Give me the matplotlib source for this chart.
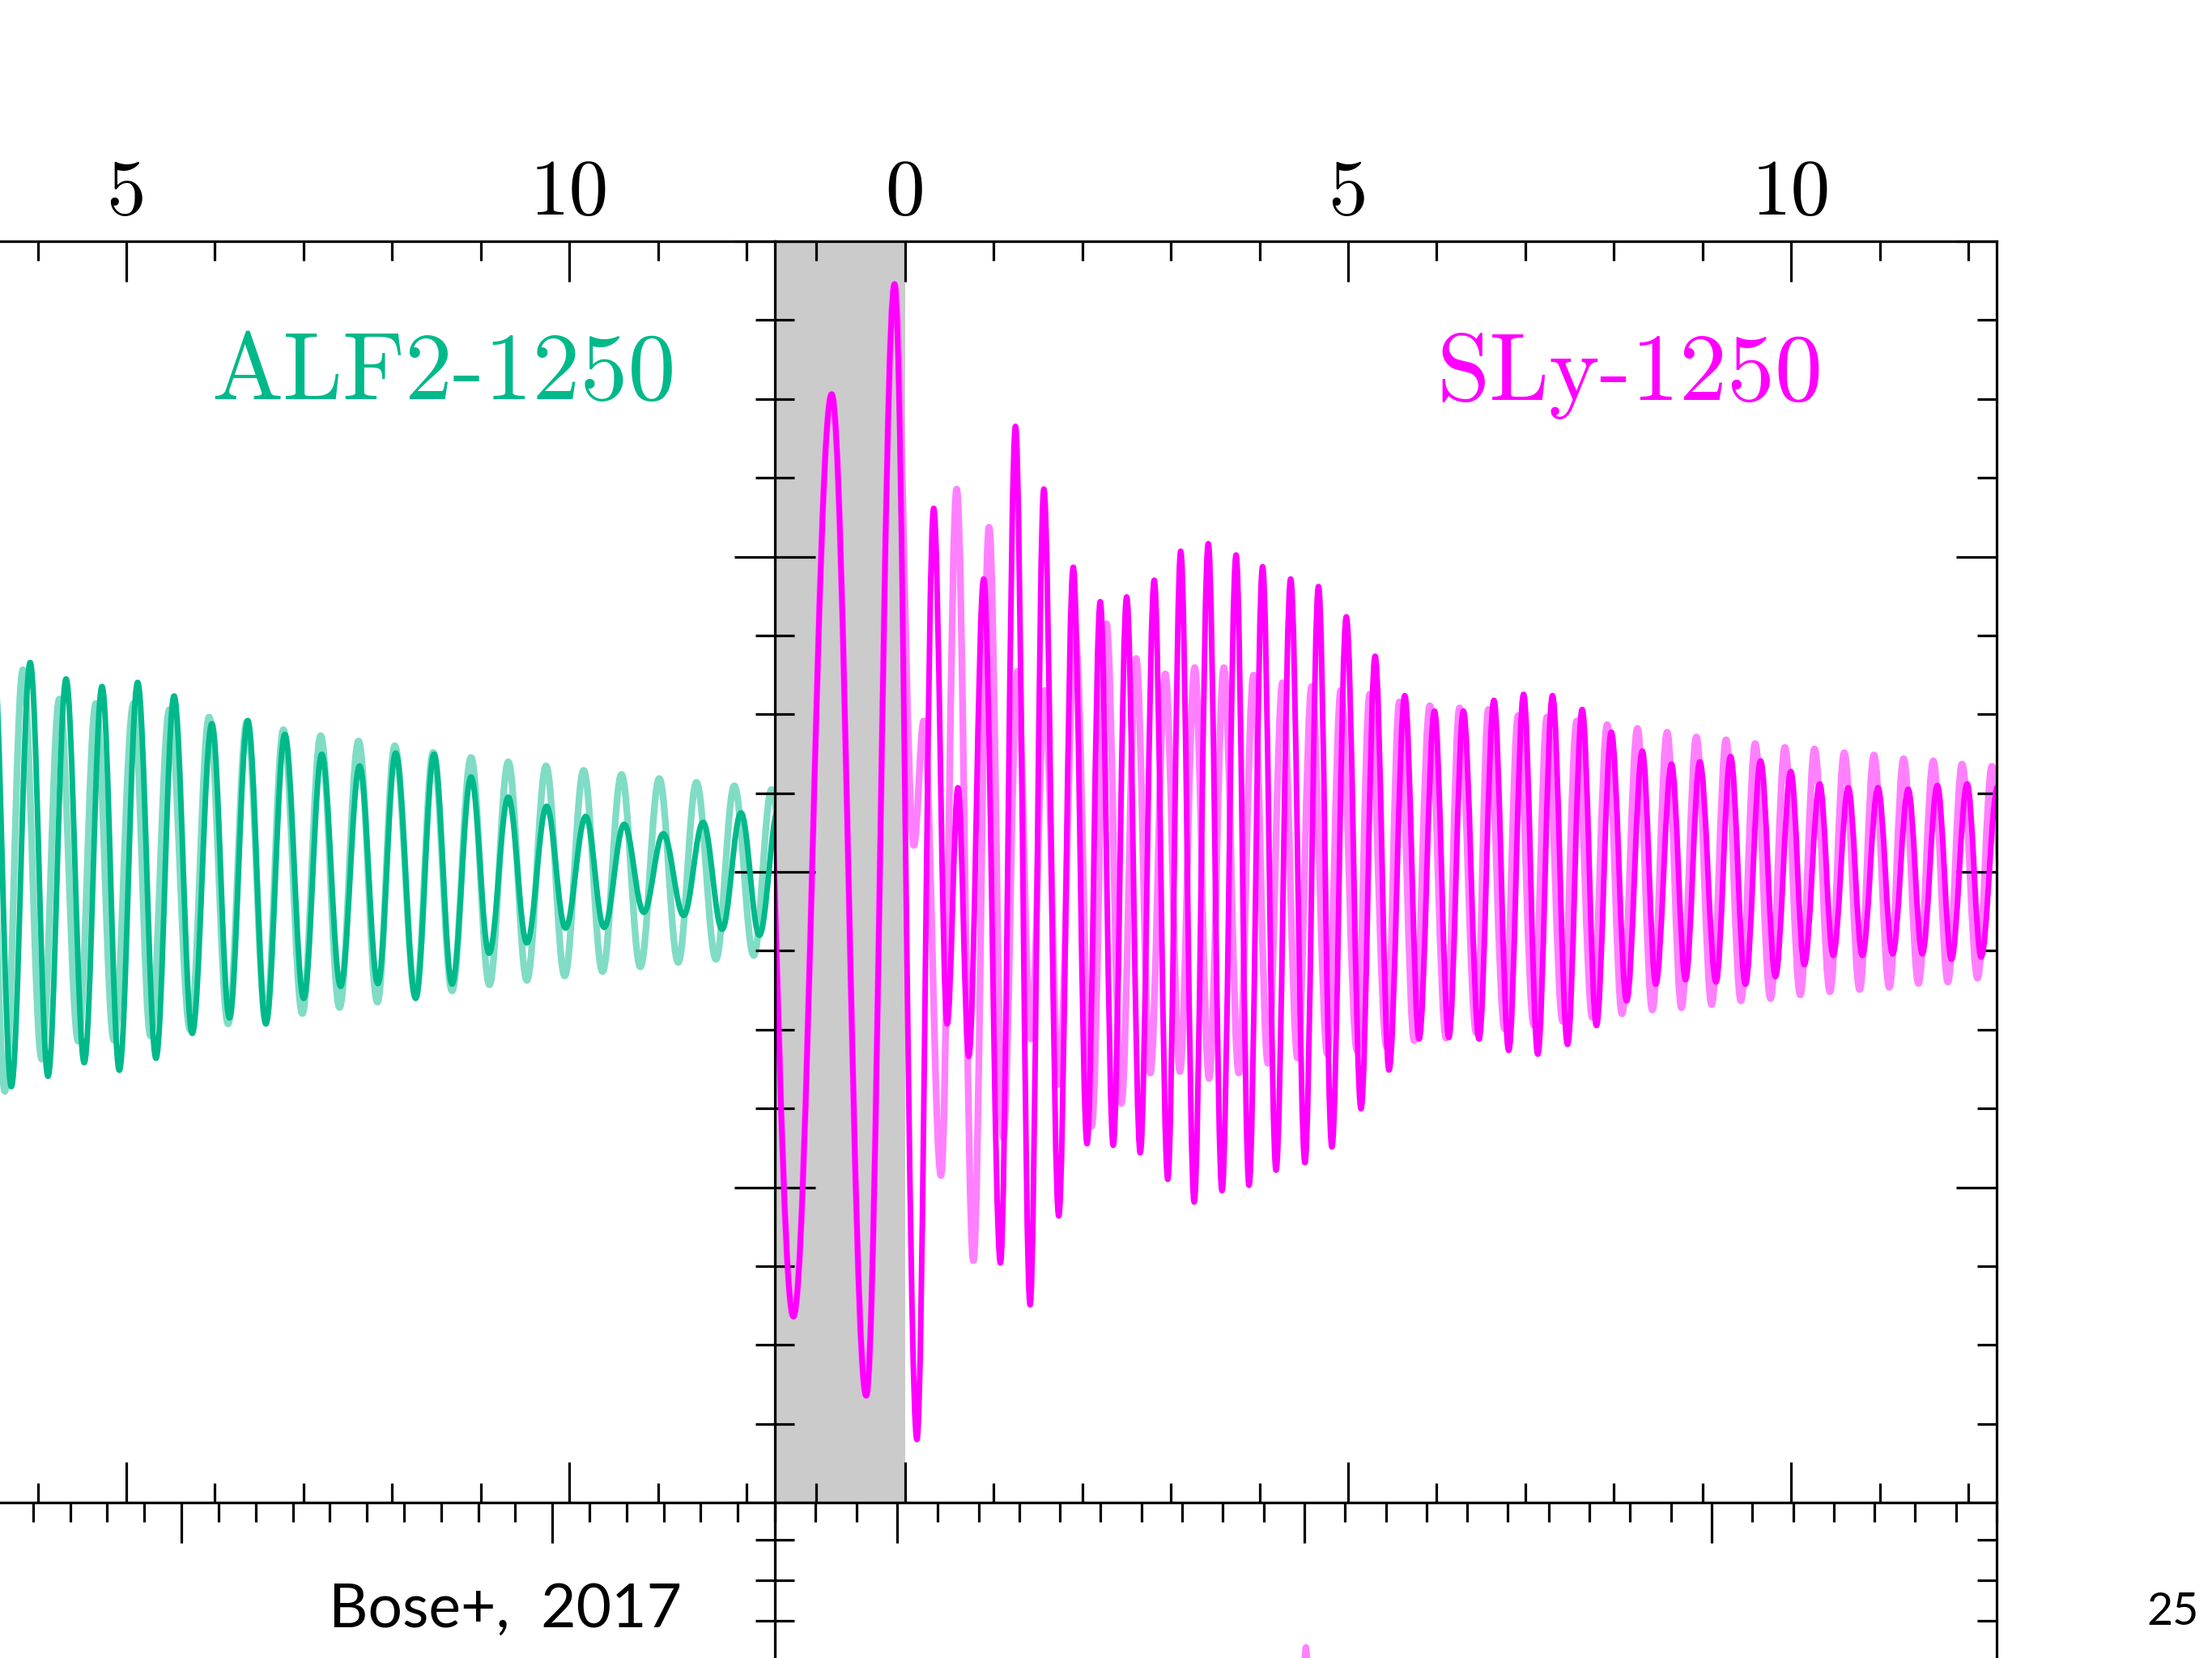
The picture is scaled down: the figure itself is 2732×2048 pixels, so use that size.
import matplotlib
matplotlib.use("Agg")
import matplotlib.pyplot as plt
from matplotlib.path import Path
from matplotlib.patches import PathPatch
from matplotlib.ticker import MultipleLocator

# ---------------- data (extrema; time in ms) ----------------
sly_t = [-1.69, -1.261, -0.829, -0.439, -0.119, 0.134, 0.323, 0.475, 0.597, 0.719,
         0.887, 1.076, 1.246, 1.411, 1.566, 1.734, 1.898, 2.054, 2.203, 2.349,
         2.501, 2.654, 2.812, 2.965, 3.111, 3.263, 3.422, 3.577, 3.736, 3.882,
         4.035, 4.187, 4.352, 4.513, 4.666, 4.817, 4.980, 5.146, 5.305, 5.462,
         5.640, 5.801, 5.975, 6.137, 6.301, 6.478, 6.646, 6.813, 6.981, 7.141,
         7.307, 7.477, 7.642, 7.803, 7.971, 8.144, 8.321, 8.473, 8.650, 8.809,
         8.970, 9.153, 9.317, 9.485, 9.656, 9.823, 9.997, 10.149, 10.323, 10.475,
         10.646, 10.804, 10.981, 11.146, 11.322, 11.481, 11.651, 11.810, 11.987, 12.145,
         12.33]
sly_h = [1.40, -1.41, 1.515, -1.661, 1.864, -1.80, 1.153, -0.482, 0.267, -0.585,
         0.929, -1.240, 1.413, -1.373, 1.214, -1.091, 0.966, -0.862, 0.857, -0.867,
         0.872, -0.891, 0.925, -0.975, 1.017, -1.047, 1.041, -1.011, 1.005, -0.994,
         0.968, -0.946, 0.929, -0.922, 0.905, -0.872, 0.809, -0.751, 0.684, -0.628,
         0.559, -0.530, 0.510, -0.525, 0.510, -0.530, 0.544, -0.566, 0.563, -0.578,
         0.559, -0.547, 0.515, -0.487, 0.443, -0.409, 0.383, -0.356, 0.342, -0.342,
         0.349, -0.349, 0.366, -0.356, 0.352, -0.332, 0.318, -0.294, 0.279, -0.265,
         0.267, -0.265, 0.267, -0.260, 0.262, -0.260, 0.274, -0.277, 0.279, -0.270,
         0.27]

sly_lt_t = [-1.69, -1.261, -0.829, -0.439, -0.119, 0.10, 0.21, 0.405, 0.582, 0.771,
            0.948, 1.109, 1.268, 1.42, 1.578, 1.734, 1.92, 2.106, 2.273, 2.441,
            2.608, 2.767, 2.937, 3.102, 3.269, 3.431, 3.598, 3.766, 3.933, 4.095,
            4.260, 4.430, 4.589, 4.766, 4.918, 5.10, 5.244, 5.435, 5.579, 5.746,
            5.923, 6.106, 6.258, 6.447, 6.584, 6.767, 6.92, 7.096, 7.245, 7.422,
            7.581, 7.757, 7.925, 8.092, 8.266, 8.434, 8.601, 8.763, 8.931, 9.104,
            9.266, 9.434, 9.595, 9.768, 9.930, 10.104, 10.265, 10.439, 10.600, 10.774,
            10.935, 11.109, 11.270, 11.438, 11.605, 11.770, 11.930, 12.105, 12.267, 12.44]
sly_lt_h = [1.40, -1.41, 1.515, -1.661, 1.864, 0.084, 0.479, -0.963, 1.214, -1.233,
            1.093, -0.843, 0.636, -0.530, 0.576, -0.674, 0.756, -0.807, 0.787, -0.734,
            0.677, -0.638, 0.628, -0.633, 0.648, -0.655, 0.648, -0.638, 0.624, -0.607,
            0.600, -0.590, 0.588, -0.578, 0.576, -0.566, 0.564, -0.554, 0.539, -0.535,
            0.527, -0.527, 0.520, -0.510, 0.515, -0.498, 0.496, -0.486, 0.491, -0.474,
            0.479, -0.462, 0.467, -0.450, 0.455, -0.438, 0.443, -0.431, 0.428, -0.421,
            0.419, -0.409, 0.407, -0.402, 0.395, -0.390, 0.390, -0.380, 0.378, -0.373,
            0.371, -0.366, 0.359, -0.354, 0.352, -0.349, 0.342, -0.337, 0.335, -0.33]

alf_t = [3.50, 3.702, 3.915, 4.116, 4.320, 4.525, 4.726, 4.921, 5.128, 5.335,
         5.539, 5.744, 5.966, 6.164, 6.371, 6.575, 6.789, 7.002, 7.206, 7.419,
         7.633, 7.840, 8.04, 8.266, 8.473, 8.677, 8.891, 9.095, 9.311, 9.521,
         9.744, 9.957, 10.186, 10.393, 10.619, 10.841, 11.06, 11.292, 11.51, 11.725,
         11.938, 12.145, 12.36]
alf_h = [0.70, -0.681, 0.664, -0.648, 0.612, -0.605, 0.588, -0.629, 0.601, -0.591,
         0.558, -0.512, 0.470, -0.463, 0.480, -0.482, 0.436, -0.401, 0.373, -0.363,
         0.336, -0.354, 0.377, -0.401, 0.373, -0.356, 0.301, -0.258, 0.237, -0.225,
         0.208, -0.178, 0.176, -0.176, 0.151, -0.128, 0.121, -0.138, 0.157, -0.182,
         0.187, -0.201, 0.20]

alf_lt_t = [3.42, 3.629, 3.833, 4.046, 4.244, 4.458, 4.656, 4.860, 5.082, 5.274,
            5.488, 5.722, 5.935, 6.149, 6.362, 6.575, 6.773, 6.987, 7.194, 7.407,
            7.621, 7.834, 8.03, 8.266, 8.464, 8.677, 8.891, 9.098, 9.311, 9.521,
            9.738, 9.948, 10.162, 10.375, 10.589, 10.802, 11.015, 11.229, 11.435, 11.655,
            11.862, 12.082, 12.283, 12.50]
alf_lt_h = [0.70, -0.696, 0.641, -0.594, 0.548, -0.537, 0.534, -0.534, 0.534, -0.520,
            0.515, -0.501, 0.491, -0.482, 0.477, -0.472, 0.451, -0.449, 0.432, -0.430,
            0.415, -0.413, 0.400, -0.396, 0.379, -0.377, 0.363, -0.358, 0.349, -0.344,
            0.336, -0.330, 0.322, -0.316, 0.309, -0.301, 0.296, -0.287, 0.284, -0.277,
            0.273, -0.265, 0.261, -0.26]

# spectrum (lower panel, only the top of one peak is visible), frequency in kHz
spec_f = [2.70, 2.90, 2.97, 2.992, 3.004, 3.016, 3.04, 3.10, 3.30]
spec_a = [0.40, 1.00, 1.90, 2.40, 2.534, 2.40, 1.90, 1.00, 0.40]

right_ticklabels = ["0", "5", "10"]
left_ticklabels = ["", "5", "10"]

# ---------------- styling ----------------
GREEN = "#00B98A"
GREEN_LT = "#80DCC5"
MAG = "#FF00FF"
MAG_LT = "#FF80FF"
GRAY = "#CBCBCB"

W, H, DPI = 2732, 2048, 100
fig = plt.figure(figsize=(W / DPI, H / DPI), dpi=DPI)
fig.patch.set_facecolor("white")


def ax_px(left, top, width, height):
    return fig.add_axes([left / W, 1 - (top + height) / H, width / W, height / H])


def wave_path(ts, hs, k=0.364):
    verts = [(ts[0], hs[0])]
    codes = [Path.MOVETO]
    for i in range(len(ts) - 1):
        d = (ts[i + 1] - ts[i]) * k
        verts += [(ts[i] + d, hs[i]), (ts[i + 1] - d, hs[i + 1]), (ts[i + 1], hs[i + 1])]
        codes += [Path.CURVE4] * 3
    return Path(verts, codes)


def add_wave(ax, ts, hs, color, lw, z):
    ax.add_patch(PathPatch(wave_path(ts, hs), facecolor="none", edgecolor=color,
                           lw=lw, capstyle="round", joinstyle="round", zorder=z))


SPW = 2.3
MAJ_L, MIN_L = 36, 17.5


def style_axes(ax, xmaj, xmin, ymaj, ymin, labeltop):
    for s in ax.spines.values():
        s.set_linewidth(SPW)
    ax.xaxis.set_major_locator(MultipleLocator(xmaj))
    ax.xaxis.set_minor_locator(MultipleLocator(xmin))
    ax.yaxis.set_major_locator(MultipleLocator(ymaj))
    ax.yaxis.set_minor_locator(MultipleLocator(ymin))
    ax.tick_params(which="both", direction="in", top=True, bottom=True, left=True,
                   right=True, labelbottom=False, labelleft=False, labelright=False,
                   labeltop=labeltop, width=SPW)
    ax.tick_params(which="major", length=MAJ_L)
    ax.tick_params(which="minor", length=MIN_L)
    if labeltop:
        ax.tick_params(axis="x", which="major", labelsize=70, pad=10,
                       labelfontfamily="cmr10")


AX_W, AX_H = 1509, 1558
TOP = 298

# main panels
ax_r = ax_px(957, TOP, AX_W, AX_H)
ax_l = ax_px(957 - AX_W, TOP, AX_W, AX_H)
for ax, labels in ((ax_l, left_ticklabels), (ax_r, right_ticklabels)):
    ax.set_xlim(-1.47, 12.32)
    ax.set_ylim(-2, 2)
    style_axes(ax, 5, 1, 1, 0.25, True)
    ax.set_xticks([0, 5, 10])
    ax.set_xticklabels(labels)
    ax.axvspan(-3, 0, color=GRAY, lw=0, zorder=0)

add_wave(ax_r, sly_lt_t, sly_lt_h, MAG_LT, 6.0, 1.5)
add_wave(ax_r, sly_t, sly_h, MAG, 5.0, 1.8)
add_wave(ax_l, alf_lt_t, alf_lt_h, GREEN_LT, 6.0, 1.5)
add_wave(ax_l, alf_t, alf_h, GREEN, 5.0, 1.8)

# lower panels (mostly outside the slide)
BOT = TOP + AX_H
YTOP = 2.892
axb_r = ax_px(957, BOT, AX_W, AX_H)
axb_r.set_xlim(1.70, 4.70)
axb_r.set_ylim(YTOP - 3.116, YTOP)
style_axes(axb_r, 1, 0.1, 0.5, 0.1, False)
axb_r.plot(spec_f, spec_a, color=MAG_LT, lw=6.0, solid_capstyle="round", zorder=1.5)

axb_l = ax_px(957 - AX_W, BOT, AX_W, AX_H)
axb_l.set_xlim(0.3057, 3.600)
axb_l.set_ylim(YTOP - 3.116, YTOP)
style_axes(axb_l, 1, 0.1, 0.5, 0.1, False)

# texts
fig.text(835 / W, 1 - 493 / H, "ALF2-1250", ha="right", va="baseline",
         color=GREEN, family="cmr10", size=85)
fig.text(2251 / W, 1 - 494 / H, "SLy-1250", ha="right", va="baseline",
         color=MAG, family="cmr10", size=85)
fig.text(842 / W, 1 - 2010 / H, "Bose+,  2017", ha="right", va="baseline",
         color="black", family="Lato", size=54)
fig.text(2716 / W, 1 - 2007 / H, "25", ha="right", va="baseline",
         color="black", family="Lato", size=40)

fig.savefig("out.png", dpi=DPI, facecolor="white")
